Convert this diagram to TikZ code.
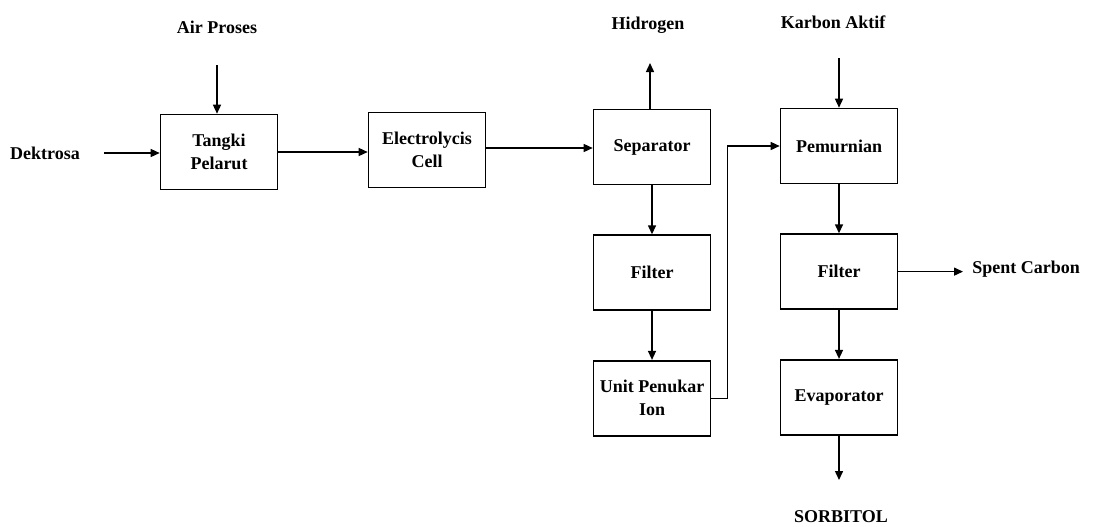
\documentclass[tikz,border=0pt]{standalone}
\usepackage{fontspec}
\setmainfont{Liberation Serif}
\usetikzlibrary{positioning,arrows.meta}

\begin{document}
\begin{tikzpicture}[
  x=0.5pt, y=-0.5pt,
  node distance=24.5pt,
  unit/.style={draw, line width=0.8pt, minimum width=58.5pt, minimum height=37.5pt, inner sep=1pt, align=center},
  stream/.style={inner sep=0pt},
  flow/.style={draw, line width=0.7pt, -{Triangle[length=4.5pt,width=4pt]}},
  font=\bfseries\fontsize{9}{11.5}\selectfont
]
  \useasboundingbox (0,0) rectangle (1112,526);

  % process units
  \node[unit] (tangki) at (219,152) {Tangki\\Pelarut};
  \node[unit] (elec) at (427,150) {Electrolycis\\Cell};
  \node[unit] (sep) at (652,147) {Separator};
  \node[unit] (filtA) [below=of sep] {Filter};
  \node[unit] (penukar) [below=of filtA] {Unit Penukar\\Ion};
  \node[unit] (pemurnian) at (839,146) {Pemurnian};
  \node[unit] (filtB) [below=of pemurnian] {Filter};
  \node[unit] (evap) [below=of filtB] {Evaporator};

  % streams in and out
  \node[stream] (dek) at (45,153) {Dektrosa};
  \node[stream] (air) at (217,27) {Air Proses};
  \node[stream] (hid) at (648,25) {Hidrogen};
  \node[stream] (karbon) at (833,22) {Karbon Aktif};
  \node[stream] (spent) at (1026,269) {Spent Carbon};
  \node[stream] (sorb) at (841,517) {SORBITOL};

  \coordinate (dekout) at (104,153);
  \coordinate (airout) at (217,65);
  \coordinate (hidin) at (650,63);
  \coordinate (karout) at (839,58);
  \coordinate (spentin) at (963,269);
  \coordinate (sorbin) at (839,480);

  \draw[flow] (dekout) -- (dekout -| tangki.west);
  \draw[flow] (airout) -- (airout |- tangki.north);
  \draw[flow] (tangki) -- (tangki -| elec.west);
  \draw[flow] (elec.east |- 0,148) -- (sep.west |- 0,148);
  \draw[flow] (sep.north -| hidin) -- (hidin);
  \draw[flow] (sep) -- (filtA);
  \draw[flow] (filtA) -- (penukar);
  \draw[flow] (penukar.east) -- ++(16,0) |- (pemurnian.west);
  \draw[flow] (karout) -- (pemurnian);
  \draw[flow] (pemurnian) -- (filtB);
  \draw[flow] (filtB) -- (filtB -| spentin);
  \draw[flow] (filtB) -- (evap);
  \draw[flow] (evap) -- (sorbin);
\end{tikzpicture}
\end{document}
